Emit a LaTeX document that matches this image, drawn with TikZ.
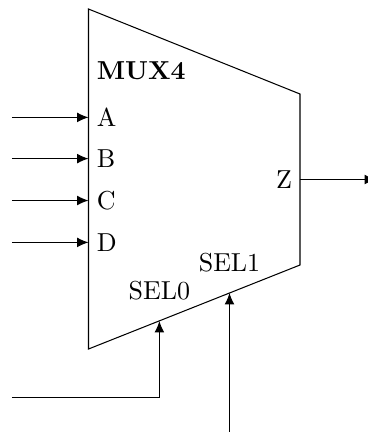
\documentclass[tikz,border=0pt]{standalone}
\usepackage{tikz}
\usetikzlibrary{arrows.meta,positioning}

\begin{document}
\begin{tikzpicture}[x=0.385pt,y=-0.385pt,>={Latex[length=4.4pt,width=3.8pt]}]

\tikzstyle{port}=[inner sep=0pt,outer sep=0pt]
\tikzset{wire style/.style={->,line width=0.4pt}}

\useasboundingbox (0,0) rectangle (368,432);

% outline of the mux
\coordinate (tl) at (88.5,9);
\coordinate (tr) at (300,94);
\coordinate (br) at (300,265);
\coordinate (bl) at (88.5,349);
\draw (tl) -- (tr) -- (br) -- (bl) -- cycle;

% pins on the outline
\coordinate (pA) at (88.5,117.4);
\coordinate (pB) at (88.5,158.6);
\coordinate (pC) at (88.5,200.5);
\coordinate (pD) at (88.5,242.4);
\coordinate (pZ) at (300,179.5);
\coordinate (pS0) at (159.4,321);
\coordinate (pS1) at (229.5,293);

% free ends
\coordinate (inA) at (12,117.4);
\coordinate (inB) at (12,158.6);
\coordinate (inC) at (12,200.5);
\coordinate (inD) at (12,242.4);
\coordinate (outZ) at (376,179.5);
\coordinate (inS0) at (12,397.4);
\coordinate (bend) at (159.4,397.4);
\coordinate (inS1) at (229.5,432);

\node[port, right=3.2pt of pA] (lA) {A};
\node[port, right=3.2pt of pB] (lB) {B};
\node[port, right=3.2pt of pC] (lC) {C};
\node[port, right=3.2pt of pD] (lD) {D};
\node[port, left=3.1pt of pZ]  (lZ) {Z};
\node[port, above=8.2pt of pS0] (lS0) {SEL0};
\node[port, above=8.2pt of pS1] (lS1) {SEL1};
\node[port, above=11pt of lA.north west, anchor=south west] (title) {\textbf{MUX4}};

\draw[wire style]
  (inA) edge (pA)
  (inB) edge (pB)
  (inC) edge (pC)
  (inD) edge (pD)
  (pZ) edge (outZ)
  (inS1) edge (pS1);
\draw[wire style] (inS0) -- (bend) -- (pS0);

\end{tikzpicture}
\end{document}
